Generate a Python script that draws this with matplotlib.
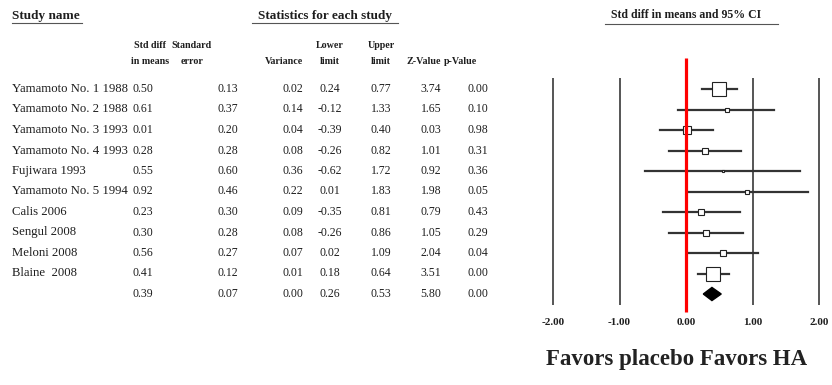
import matplotlib.pyplot as plt
from matplotlib.patches import Polygon

plt.rcParams['font.family'] = ['Liberation Serif', 'DejaVu Serif']

# 数据
studies = ['Yamamoto No. 1 1988', 'Yamamoto No. 2 1988', 'Yamamoto No. 3 1993',
           'Yamamoto No. 4 1993', 'Fujiwara 1993', 'Yamamoto No. 5 1994',
           'Calis 2006', 'Sengul 2008', 'Meloni 2008', 'Blaine  2008']
std_diff = [0.50, 0.61, 0.01, 0.28, 0.55, 0.92, 0.23, 0.30, 0.56, 0.41]
std_err = [0.13, 0.37, 0.20, 0.28, 0.60, 0.46, 0.30, 0.28, 0.27, 0.12]
variance = [0.02, 0.14, 0.04, 0.08, 0.36, 0.22, 0.09, 0.08, 0.07, 0.01]
lower = [0.24, -0.12, -0.39, -0.26, -0.62, 0.01, -0.35, -0.26, 0.02, 0.18]
upper = [0.77, 1.33, 0.40, 0.82, 1.72, 1.83, 0.81, 0.86, 1.09, 0.64]
z_value = [3.74, 1.65, 0.03, 1.01, 0.92, 1.98, 0.79, 1.05, 2.04, 3.51]
p_value = [0.00, 0.10, 0.98, 0.31, 0.36, 0.05, 0.43, 0.29, 0.04, 0.00]

# 合并结果
sum_diff, sum_se, sum_var, sum_lower, sum_upper, sum_z, sum_p = 0.39, 0.07, 0.00, 0.26, 0.53, 5.80, 0.00

ticks = [-2, -1, 0, 1, 2]
tick_labels = ['-2.00', '-1.00', '0.00', '1.00', '2.00']

W, H = 832, 385
fig = plt.figure(figsize=(W / 100, H / 100), dpi=100)

# 背景坐标系（像素）
bg = fig.add_axes([0, 0, 1, 1])
bg.set_xlim(0, W)
bg.set_ylim(H, 0)
bg.axis('off')

row0, step = 89, 20.5
def row_y(i):
    return row0 + step * i

# 森林图坐标系
x0, unit = 686, 66.5
ax = fig.add_axes([0, 0, 1, 1])
ax.set_xlim(-x0 / unit, (W - x0) / unit)
ax.set_ylim((H - row0) / step, -row0 / step)
ax.axis('off')
ax.patch.set_alpha(0)

txt = '#1e1e1e'
hdr = dict(fontsize=7.2, fontweight='bold', color=txt, va='center')
# 标题
bg.text(12, 16, 'Study name', ha='left', fontsize=9.5, fontweight='bold', color=txt, va='center')
bg.plot([12, 82], [23, 23], color='#555555', lw=0.8)
bg.text(325, 16, 'Statistics for each study', ha='center', fontsize=9.5,
        fontweight='bold', color=txt, va='center')
bg.plot([252, 398], [23, 23], color='#555555', lw=0.8)
bg.text(686, 15, 'Std diff in means and 95% CI', ha='center', fontsize=8.5,
        fontweight='bold', color=txt, va='center')
bg.plot([605, 778], [24, 24], color='#555555', lw=0.8)

cols = [143, 228, 293, 330, 381, 431, 478]
heads1 = ['Std diff', 'Standard', '', 'Lower', 'Upper', '', '']
heads2 = ['in means', 'error', 'Variance', 'limit', 'limit', 'Z-Value', 'p-Value']
head_x = [150, 192, 284, 330, 381, 424, 461]
for hx, h1, h2 in zip(head_x, heads1, heads2):
    bg.text(hx, 45, h1, ha='center', **hdr)
    bg.text(hx, 62, h2, ha='center', **hdr)

body = dict(fontsize=8.5, color=txt, va='center', ha='center')
for i, name in enumerate(studies):
    y = row_y(i)
    bg.text(12, y, name, fontsize=9.2, color=txt, va='center', ha='left')
    vals = [std_diff[i], std_err[i], variance[i], lower[i], upper[i], z_value[i], p_value[i]]
    for cx, v in zip(cols, vals):
        bg.text(cx, y, f'{v:.2f}', **body)

y = row_y(len(studies))
for cx, v in zip(cols, [sum_diff, sum_se, sum_var, sum_lower, sum_upper, sum_z, sum_p]):
    bg.text(cx, y, f'{v:.2f}', **body)

# 网格线
n = len(studies)
ax.vlines([t for t in ticks if t != 0], -0.55, n + 0.55, color='#555555', lw=1.4)
ax.vlines(0, -1.5, n + 0.9, color='#ff0000', lw=2.3, zorder=5)

# 置信区间和方块
wmax = max(1 / s ** 2 for s in std_err)
for i in range(n):
    ax.plot([lower[i], upper[i]], [i, i], color='#333333', lw=1.6, zorder=3)
    size = 10.5 * ((1 / std_err[i] ** 2) / wmax) ** 0.5
    ax.plot(std_diff[i], i, marker='s', ms=size, mfc='white', mec='#222222',
            mew=0.8, zorder=4)

# 合并效应菱形
ax.add_patch(Polygon([[sum_lower, n], [sum_diff, n - 0.32], [sum_upper, n], [sum_diff, n + 0.32]],
                     closed=True, fc='black', ec='black', zorder=4))

for t, lab in zip(ticks, tick_labels):
    ax.text(t, (322 - row0) / step, lab, ha='center', va='center', fontsize=8,
            fontweight='bold', color=txt)

bg.text(677, 360, 'Favors placebo Favors HA', ha='center', va='center',
        fontsize=16.5, fontweight='bold', color='#222222')

fig.savefig('out.png', dpi=100)
